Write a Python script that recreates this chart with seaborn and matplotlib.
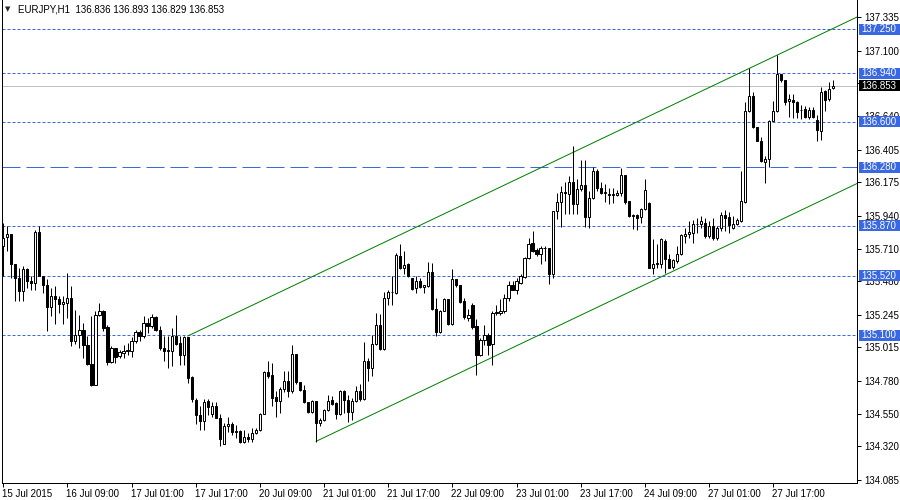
import numpy as np
import pandas as pd
import matplotlib
matplotlib.use("Agg")
import matplotlib.pyplot as plt
import matplotlib.transforms as mtransforms
from matplotlib.patches import Rectangle
import seaborn as sns

# EURJPY H1, 15 Jul 2015 17:00 .. 28 Jul 2015 08:00
opens = [
    135.728, 135.791, 135.810, 135.599, 135.505, 135.410, 135.563, 135.481, 135.469, 135.829,
    135.516, 135.453, 135.298, 135.375, 135.356, 135.321, 135.328, 135.359, 135.063, 135.105,
    135.140, 135.035, 134.898, 134.753, 135.246, 135.270, 135.157, 134.912, 135.011, 134.952,
    134.976, 134.990, 134.992, 135.058, 135.121, 135.093, 135.185, 135.168, 135.227, 135.140,
    135.011, 134.992, 134.992, 135.093, 135.046, 134.964, 135.086, 134.804, 134.647, 134.541,
    134.499, 134.640, 134.545, 134.600, 134.522, 134.334, 134.461, 134.480, 134.424, 134.431,
    134.353, 134.388, 134.372, 134.412, 134.435, 134.550, 134.842, 134.818, 134.670, 134.640,
    134.724, 134.781, 134.706, 134.969, 134.771, 134.717, 134.635, 134.560, 134.640, 134.482,
    134.506, 134.576, 134.647, 134.623, 134.546, 134.710, 134.647, 134.560, 134.640, 134.706,
    134.654, 134.922, 134.870, 135.039, 135.176, 135.006, 135.359, 135.406, 135.399, 135.657,
    135.570, 135.603, 135.500, 135.434, 135.481, 135.439, 135.446, 135.544, 135.288, 135.124,
    135.274, 135.352, 135.180, 135.495, 135.453, 135.340, 135.223, 135.316, 135.164, 134.959,
    135.070, 135.100, 135.039, 135.258, 135.255, 135.274, 135.364, 135.457, 135.422, 135.469,
    135.509, 135.641, 135.751, 135.697, 135.674, 135.711, 135.716, 135.533, 135.974, 136.040,
    136.108, 136.092, 136.174, 136.026, 136.127, 136.157, 135.932, 136.063, 136.256, 136.138,
    136.103, 136.092, 136.087, 136.087, 136.103, 136.228, 136.045, 135.939, 135.946, 135.932,
    135.986, 136.033, 135.570, 135.603, 135.603, 135.763, 135.633, 135.579, 135.622, 135.669,
    135.798, 135.810, 135.821, 135.880, 135.881, 135.892, 135.798, 135.869, 135.782, 135.852,
    135.946, 135.932, 135.852, 135.881, 135.904, 136.040, 136.675, 136.778, 136.562, 136.463,
    136.315, 136.339, 136.609, 136.675, 136.938, 136.896, 136.745, 136.755, 136.738, 136.684,
    136.691, 136.637, 136.680, 136.614, 136.534, 136.816, 136.762, 136.836,
]
highs = [
    135.892, 135.869, 135.815, 135.600, 135.575, 135.587, 135.575, 135.516, 135.838, 135.869,
    135.516, 135.493, 135.434, 135.446, 135.375, 135.375, 135.540, 135.446, 135.281, 135.246,
    135.187, 135.093, 135.234, 135.270, 135.328, 135.281, 135.176, 135.023, 135.011, 134.999,
    135.030, 135.046, 135.086, 135.140, 135.140, 135.234, 135.223, 135.253, 135.234, 135.164,
    135.093, 135.093, 135.152, 135.241, 135.093, 135.093, 135.086, 134.811, 134.659, 134.600,
    134.654, 134.654, 134.635, 134.630, 134.546, 134.482, 134.529, 134.489, 134.471, 134.435,
    134.435, 134.412, 134.447, 134.447, 134.553, 134.851, 134.917, 134.905, 134.706, 134.734,
    134.847, 134.847, 135.035, 134.969, 134.771, 134.753, 134.635, 134.647, 134.640, 134.518,
    134.583, 134.682, 134.677, 134.635, 134.717, 134.717, 134.682, 134.659, 134.741, 134.757,
    135.053, 134.940, 135.105, 135.258, 135.251, 135.406, 135.422, 135.516, 135.681, 135.740,
    135.692, 135.610, 135.505, 135.516, 135.500, 135.457, 135.615, 135.610, 135.364, 135.281,
    135.364, 135.352, 135.563, 135.495, 135.457, 135.364, 135.288, 135.328, 135.218, 135.081,
    135.176, 135.117, 135.270, 135.316, 135.352, 135.387, 135.481, 135.481, 135.505, 135.528,
    135.650, 135.782, 135.834, 135.716, 135.728, 135.728, 135.716, 135.975, 136.103, 136.150,
    136.174, 136.221, 136.432, 136.197, 136.331, 136.331, 136.115, 136.280, 136.268, 136.174,
    136.162, 136.134, 136.134, 136.120, 136.275, 136.228, 136.045, 135.951, 135.951, 135.998,
    136.197, 136.040, 135.774, 135.739, 135.781, 135.774, 135.669, 135.633, 135.727, 135.810,
    135.852, 135.904, 135.908, 135.927, 135.939, 135.927, 135.904, 135.927, 135.869, 135.970,
    135.979, 135.963, 135.939, 135.927, 136.252, 136.738, 136.980, 136.809, 136.567, 136.496,
    136.362, 136.614, 136.745, 137.067, 136.938, 136.896, 136.797, 136.797, 136.745, 136.715,
    136.708, 136.703, 136.703, 136.651, 136.844, 136.821, 136.879, 136.893,
]
lows = [
    135.516, 135.692, 135.505, 135.340, 135.340, 135.340, 135.434, 135.422, 135.415, 135.516,
    135.399, 135.129, 135.234, 135.180, 135.258, 135.180, 135.223, 135.023, 135.039, 135.011,
    134.941, 134.894, 134.741, 134.748, 135.234, 135.129, 134.889, 134.905, 134.905, 134.941,
    134.941, 134.964, 134.945, 135.046, 135.058, 135.081, 135.117, 135.152, 135.129, 134.999,
    134.917, 134.870, 134.882, 135.035, 134.894, 134.894, 134.764, 134.635, 134.475, 134.435,
    134.435, 134.541, 134.529, 134.518, 134.325, 134.334, 134.424, 134.400, 134.376, 134.341,
    134.341, 134.353, 134.353, 134.405, 134.428, 134.546, 134.800, 134.600, 134.529, 134.553,
    134.701, 134.670, 134.694, 134.757, 134.706, 134.623, 134.553, 134.553, 134.353, 134.466,
    134.499, 134.565, 134.607, 134.513, 134.541, 134.553, 134.494, 134.506, 134.635, 134.640,
    134.647, 134.776, 134.811, 135.035, 134.999, 134.999, 135.316, 135.316, 135.392, 135.563,
    135.528, 135.509, 135.422, 135.399, 135.434, 135.399, 135.439, 135.281, 135.093, 135.117,
    135.270, 135.171, 135.176, 135.439, 135.328, 135.218, 135.199, 135.147, 134.823, 134.952,
    135.035, 134.964, 134.894, 135.241, 135.246, 135.258, 135.340, 135.415, 135.387, 135.462,
    135.500, 135.634, 135.688, 135.657, 135.599, 135.622, 135.462, 135.500, 135.915, 135.861,
    135.951, 135.951, 135.951, 135.951, 136.115, 135.861, 135.857, 136.056, 136.115, 136.092,
    136.040, 136.021, 136.033, 136.080, 136.080, 136.026, 135.932, 135.845, 135.838, 135.892,
    135.979, 135.570, 135.528, 135.574, 135.574, 135.539, 135.570, 135.563, 135.610, 135.664,
    135.751, 135.786, 135.751, 135.821, 135.857, 135.782, 135.782, 135.768, 135.768, 135.834,
    135.834, 135.822, 135.845, 135.876, 135.899, 136.033, 136.668, 136.557, 136.463, 136.315,
    136.167, 136.280, 136.604, 136.668, 136.879, 136.715, 136.637, 136.628, 136.628, 136.621,
    136.628, 136.621, 136.628, 136.468, 136.473, 136.675, 136.745, 136.829,
]
closes = [
    135.787, 135.810, 135.599, 135.505, 135.410, 135.563, 135.481, 135.465, 135.829, 135.516,
    135.457, 135.298, 135.375, 135.352, 135.321, 135.335, 135.359, 135.063, 135.105, 135.140,
    135.035, 134.898, 134.753, 135.246, 135.270, 135.152, 134.912, 135.011, 134.945, 134.983,
    134.992, 134.997, 135.063, 135.121, 135.093, 135.185, 135.168, 135.227, 135.140, 135.011,
    134.992, 134.995, 135.093, 135.039, 134.964, 135.086, 134.800, 134.654, 134.541, 134.499,
    134.635, 134.593, 134.600, 134.522, 134.372, 134.466, 134.480, 134.424, 134.431, 134.353,
    134.388, 134.372, 134.412, 134.435, 134.550, 134.842, 134.811, 134.663, 134.640, 134.724,
    134.781, 134.706, 134.969, 134.771, 134.717, 134.630, 134.560, 134.640, 134.482, 134.506,
    134.576, 134.642, 134.616, 134.546, 134.710, 134.647, 134.560, 134.640, 134.706, 134.654,
    134.922, 134.870, 135.039, 135.176, 135.006, 135.359, 135.406, 135.401, 135.664, 135.570,
    135.594, 135.516, 135.429, 135.481, 135.439, 135.453, 135.544, 135.288, 135.124, 135.274,
    135.352, 135.180, 135.495, 135.453, 135.335, 135.227, 135.246, 135.157, 134.959, 135.070,
    135.100, 135.035, 135.258, 135.265, 135.274, 135.364, 135.457, 135.422, 135.481, 135.516,
    135.641, 135.744, 135.692, 135.674, 135.711, 135.716, 135.533, 135.975, 136.040, 136.108,
    136.099, 136.174, 136.026, 136.127, 136.157, 135.932, 136.063, 136.256, 136.138, 136.103,
    136.108, 136.087, 136.092, 136.103, 136.228, 136.040, 135.939, 135.946, 135.927, 135.986,
    136.120, 135.570, 135.603, 135.610, 135.774, 135.633, 135.574, 135.626, 135.669, 135.805,
    135.814, 135.828, 135.880, 135.885, 135.904, 135.798, 135.869, 135.787, 135.852, 135.946,
    135.927, 135.876, 135.881, 135.909, 136.045, 136.675, 136.778, 136.562, 136.463, 136.322,
    136.339, 136.609, 136.675, 136.938, 136.896, 136.738, 136.762, 136.738, 136.668, 136.680,
    136.637, 136.680, 136.637, 136.543, 136.809, 136.755, 136.832, 136.853,
]

time_labels = ["15 Jul 2015", "16 Jul 09:00", "17 Jul 01:00", "17 Jul 17:00", "20 Jul 09:00",
               "21 Jul 01:00", "21 Jul 17:00", "22 Jul 09:00", "23 Jul 01:00", "23 Jul 17:00",
               "24 Jul 09:00", "27 Jul 01:00", "27 Jul 17:00"]
price_ticks = [137.335, 137.100, 136.870, 136.640, 136.405, 136.175, 135.940, 135.710,
               135.480, 135.245, 135.015, 134.780, 134.550, 134.320, 134.085]
hidden_ticks = [136.870]  # covered by the current price tag in the reference
hlines = [137.250, 136.940, 136.600, 135.870, 135.520, 135.100]
hline_long = 136.280
last_price = 136.853

# channel: base line through two highs, parallel line through a low
chan_p1 = (46, 135.095)
chan_p2 = (186, 136.975)
chan_low = (78, 134.355)

df = pd.DataFrame({"open": opens, "high": highs, "low": lows, "close": closes})
df["bar"] = np.arange(len(df))
up = df["close"] >= df["open"]

sns.set_style("white")
plt.rcParams["font.family"] = ["Liberation Sans", "DejaVu Sans"]

px = 0.72  # one pixel in points at dpi 100
blue = "#3a68e0"

fig = plt.figure(figsize=(9, 5), dpi=100)
ax = fig.add_axes([2 / 900, 1 - 482.5 / 500, 855 / 900, 482.5 / 500])

x_max = 212.9
y_lo, y_hi = 134.066, 137.456
ax.set_xlim(-0.3, x_max)
ax.set_ylim(y_lo, y_hi)

# horizontal levels
for lv in hlines:
    ax.axhline(lv, color=blue, lw=px, dashes=(3, 2), zorder=1)
ax.axhline(hline_long, color=blue, lw=px, dashes=(18, 6), zorder=1)
ax.axhline(last_price, color="#c0c0c0", lw=px, zorder=1)

# channel lines
slope = (chan_p2[1] - chan_p1[1]) / (chan_p2[0] - chan_p1[0])
xs1 = np.array([chan_p1[0], x_max])
xs2 = np.array([chan_low[0], x_max])
sns.lineplot(x=xs1, y=chan_p1[1] + slope * (xs1 - chan_p1[0]), color="#008000",
             lw=px, ax=ax, zorder=2)
sns.lineplot(x=xs2, y=chan_low[1] + slope * (xs2 - chan_low[0]), color="#008000",
             lw=px, ax=ax, zorder=2)

# candles
ax.vlines(df["bar"], df["low"], df["high"], color="black", lw=px, zorder=3)
body_lo = np.minimum(df["open"], df["close"])
body_h = np.maximum(np.abs(df["close"] - df["open"]), 0.001)
ax.bar(df["bar"][up], body_h[up], bottom=body_lo[up], width=0.55,
       color="white", edgecolor="black", lw=px, zorder=4)
ax.bar(df["bar"][~up], body_h[~up], bottom=body_lo[~up], width=0.55,
       color="black", edgecolor="black", lw=px, zorder=4)

# axes look
ax.spines["top"].set_visible(False)
for s in ["left", "right", "bottom"]:
    ax.spines[s].set_color("black")
    ax.spines[s].set_linewidth(px)

ax.yaxis.tick_right()
ax.set_yticks(price_ticks)
ax.set_yticklabels(["" if p in hidden_ticks else f"{p:.3f}" for p in price_ticks])
ax.tick_params(axis="y", direction="out", length=3, width=px, pad=2,
               labelsize=7, colors="black", right=True, left=False)
ax.set_xticks(np.arange(len(time_labels)) * 16)
ax.set_xticklabels(time_labels)
ax.tick_params(axis="x", direction="out", length=3, width=px, pad=2,
               labelsize=7, colors="black", bottom=True)
offset = mtransforms.ScaledTranslation(-1 / 100, 0, fig.dpi_scale_trans)
for lab in ax.get_xticklabels():
    lab.set_horizontalalignment("left")
    lab.set_transform(lab.get_transform() + offset)

# price labels on the axis: filled boxes that cover the tick labels below them
trans = mtransforms.blended_transform_factory(ax.transAxes, ax.transData)
ppu = 482.5 / (y_hi - y_lo)          # pixels per price unit
box_h = 11 / ppu
box_x0 = 1 + 1.5 / 855
box_w = 42 / 855


def price_tag(level, face):
    ax.add_patch(Rectangle((box_x0, level - box_h / 2), box_w, box_h, transform=trans,
                           facecolor=face, edgecolor="none", clip_on=False, zorder=9))
    ax.text(1 + 4.5 / 855, level, f"{level:.3f}", transform=trans, ha="left", va="center",
            fontsize=7, color="white", clip_on=False, zorder=10)


for lv in hlines + [hline_long]:
    price_tag(lv, blue)
price_tag(last_price, "black")

# header
fig.text(5 / 900, 1 - 9 / 500, "\u25bc", fontsize=5, va="center", ha="left",
         family=["DejaVu Sans"])
fig.text(18 / 900, 1 - 9 / 500,
         f"EURJPY,H1  {opens[-1]:.3f} {highs[-1]:.3f} {lows[-1]:.3f} {closes[-1]:.3f}",
         fontsize=7, va="center", ha="left", color="black")

fig.savefig("out.png", dpi=100)
